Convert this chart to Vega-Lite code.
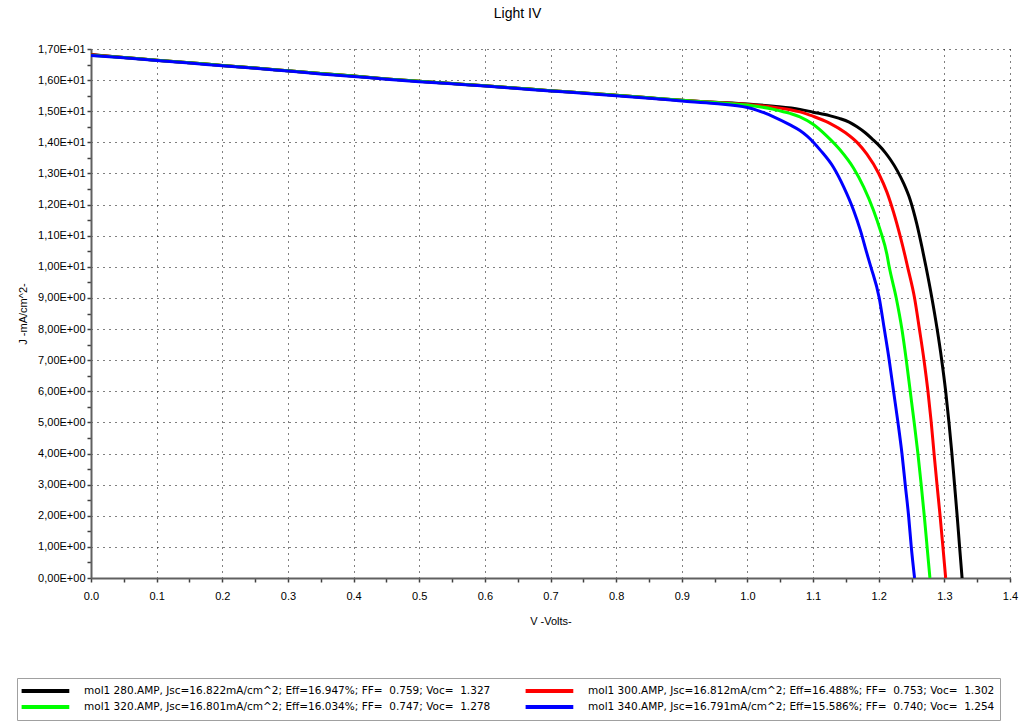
{
  "$schema": "https://vega.github.io/schema/vega-lite/v6.json",
  "width": 919,
  "height": 529,
  "autosize": {"type": "none"},
  "padding": {"left": 91, "top": 49, "right": 26, "bottom": 145},
  "background": "white",
  "config": {"view": {"stroke": null}, "font": "Liberation Sans"},
  "title": {"text": "Light IV", "fontSize": 14, "fontWeight": "normal", "color": "#000000", "anchor": "middle", "dx": -33, "offset": 22},
  "data": {
    "values": [
      {"k": "280", "v": 0, "j": 16.822}, {"k": "280", "v": 0.05, "j": 16.73}, {"k": "280", "v": 0.1, "j": 16.64}, {"k": "280", "v": 0.15, "j": 16.56}, {"k": "280", "v": 0.2, "j": 16.47}, {"k": "280", "v": 0.25, "j": 16.39}, {"k": "280", "v": 0.3, "j": 16.3}, {"k": "280", "v": 0.35, "j": 16.21}, {"k": "280", "v": 0.4, "j": 16.13}, {"k": "280", "v": 0.45, "j": 16.04}, {"k": "280", "v": 0.5, "j": 15.96}, {"k": "280", "v": 0.55, "j": 15.89}, {"k": "280", "v": 0.6, "j": 15.82}, {"k": "280", "v": 0.65, "j": 15.74}, {"k": "280", "v": 0.7, "j": 15.66}, {"k": "280", "v": 0.75, "j": 15.59}, {"k": "280", "v": 0.8, "j": 15.51}, {"k": "280", "v": 0.85, "j": 15.43}, {"k": "280", "v": 0.9, "j": 15.35}, {"k": "280", "v": 0.95, "j": 15.29},
      {"k": "280", "v": 1.0, "j": 15.23}, {"k": "280", "v": 1.04, "j": 15.16}, {"k": "280", "v": 1.08, "j": 15.06}, {"k": "280", "v": 1.1, "j": 14.97}, {"k": "280", "v": 1.125, "j": 14.86}, {"k": "280", "v": 1.14, "j": 14.77}, {"k": "280", "v": 1.155, "j": 14.65}, {"k": "280", "v": 1.167, "j": 14.5}, {"k": "280", "v": 1.18, "j": 14.3}, {"k": "280", "v": 1.192, "j": 14.07}, {"k": "280", "v": 1.2, "j": 13.91}, {"k": "280", "v": 1.21, "j": 13.67}, {"k": "280", "v": 1.218, "j": 13.44}, {"k": "280", "v": 1.228, "j": 13.1}, {"k": "280", "v": 1.238, "j": 12.68}, {"k": "280", "v": 1.248, "j": 12.15}, {"k": "280", "v": 1.258, "j": 11.38}, {"k": "280", "v": 1.266, "j": 10.62}, {"k": "280", "v": 1.272, "j": 10.0}, {"k": "280", "v": 1.281, "j": 9.0}, {"k": "280", "v": 1.289, "j": 8.0}, {"k": "280", "v": 1.296, "j": 7.0}, {"k": "280", "v": 1.302, "j": 6.0}, {"k": "280", "v": 1.307, "j": 5.0}, {"k": "280", "v": 1.3115, "j": 4.0}, {"k": "280", "v": 1.3155, "j": 3.0}, {"k": "280", "v": 1.3195, "j": 2.0}, {"k": "280", "v": 1.3232, "j": 1.0}, {"k": "280", "v": 1.327, "j": 0.0},

      {"k": "300", "v": 0, "j": 16.812}, {"k": "300", "v": 0.05, "j": 16.73}, {"k": "300", "v": 0.1, "j": 16.64}, {"k": "300", "v": 0.15, "j": 16.56}, {"k": "300", "v": 0.2, "j": 16.47}, {"k": "300", "v": 0.25, "j": 16.39}, {"k": "300", "v": 0.3, "j": 16.3}, {"k": "300", "v": 0.35, "j": 16.21}, {"k": "300", "v": 0.4, "j": 16.13}, {"k": "300", "v": 0.45, "j": 16.04}, {"k": "300", "v": 0.5, "j": 15.96}, {"k": "300", "v": 0.55, "j": 15.89}, {"k": "300", "v": 0.6, "j": 15.82}, {"k": "300", "v": 0.65, "j": 15.74}, {"k": "300", "v": 0.7, "j": 15.66}, {"k": "300", "v": 0.75, "j": 15.59}, {"k": "300", "v": 0.8, "j": 15.51}, {"k": "300", "v": 0.85, "j": 15.43}, {"k": "300", "v": 0.9, "j": 15.35}, {"k": "300", "v": 0.95, "j": 15.29},
      {"k": "300", "v": 1.0, "j": 15.22}, {"k": "300", "v": 1.04, "j": 15.13}, {"k": "300", "v": 1.065, "j": 15.05}, {"k": "300", "v": 1.08, "j": 14.98}, {"k": "300", "v": 1.1, "j": 14.84}, {"k": "300", "v": 1.125, "j": 14.62}, {"k": "300", "v": 1.15, "j": 14.3}, {"k": "300", "v": 1.167, "j": 14.0}, {"k": "300", "v": 1.182, "j": 13.62}, {"k": "300", "v": 1.2, "j": 13.0}, {"k": "300", "v": 1.2125, "j": 12.4}, {"k": "300", "v": 1.2225, "j": 11.76}, {"k": "300", "v": 1.233, "j": 10.96}, {"k": "300", "v": 1.2405, "j": 10.32}, {"k": "300", "v": 1.244, "j": 10.0}, {"k": "300", "v": 1.2546, "j": 9.0}, {"k": "300", "v": 1.262, "j": 8.0}, {"k": "300", "v": 1.269, "j": 7.0}, {"k": "300", "v": 1.275, "j": 6.0}, {"k": "300", "v": 1.28, "j": 5.0}, {"k": "300", "v": 1.2843, "j": 4.0}, {"k": "300", "v": 1.2888, "j": 3.0}, {"k": "300", "v": 1.2935, "j": 2.0}, {"k": "300", "v": 1.2978, "j": 1.0}, {"k": "300", "v": 1.302, "j": 0.0},

      {"k": "320", "v": 0, "j": 16.801}, {"k": "320", "v": 0.05, "j": 16.73}, {"k": "320", "v": 0.1, "j": 16.64}, {"k": "320", "v": 0.15, "j": 16.56}, {"k": "320", "v": 0.2, "j": 16.47}, {"k": "320", "v": 0.25, "j": 16.39}, {"k": "320", "v": 0.3, "j": 16.3}, {"k": "320", "v": 0.35, "j": 16.21}, {"k": "320", "v": 0.4, "j": 16.13}, {"k": "320", "v": 0.45, "j": 16.04}, {"k": "320", "v": 0.5, "j": 15.96}, {"k": "320", "v": 0.55, "j": 15.89}, {"k": "320", "v": 0.6, "j": 15.82}, {"k": "320", "v": 0.65, "j": 15.74}, {"k": "320", "v": 0.7, "j": 15.66}, {"k": "320", "v": 0.75, "j": 15.59}, {"k": "320", "v": 0.8, "j": 15.51}, {"k": "320", "v": 0.85, "j": 15.43}, {"k": "320", "v": 0.9, "j": 15.35}, {"k": "320", "v": 0.95, "j": 15.28},
      {"k": "320", "v": 1.0, "j": 15.2}, {"k": "320", "v": 1.04, "j": 15.06}, {"k": "320", "v": 1.065, "j": 14.93}, {"k": "320", "v": 1.08, "j": 14.82}, {"k": "320", "v": 1.1, "j": 14.58}, {"k": "320", "v": 1.121, "j": 14.2}, {"k": "320", "v": 1.141, "j": 13.76}, {"k": "320", "v": 1.162, "j": 13.16}, {"k": "320", "v": 1.177, "j": 12.57}, {"k": "320", "v": 1.192, "j": 11.82}, {"k": "320", "v": 1.2023, "j": 11.18}, {"k": "320", "v": 1.2125, "j": 10.4}, {"k": "320", "v": 1.216, "j": 10.0}, {"k": "320", "v": 1.2267, "j": 9.0}, {"k": "320", "v": 1.2353, "j": 8.0}, {"k": "320", "v": 1.242, "j": 7.0}, {"k": "320", "v": 1.248, "j": 6.0}, {"k": "320", "v": 1.254, "j": 5.0}, {"k": "320", "v": 1.2597, "j": 4.0}, {"k": "320", "v": 1.2647, "j": 3.0}, {"k": "320", "v": 1.2694, "j": 2.0}, {"k": "320", "v": 1.2737, "j": 1.0}, {"k": "320", "v": 1.278, "j": 0.0},

      {"k": "340", "v": 0, "j": 16.791}, {"k": "340", "v": 0.05, "j": 16.72}, {"k": "340", "v": 0.1, "j": 16.63}, {"k": "340", "v": 0.15, "j": 16.55}, {"k": "340", "v": 0.2, "j": 16.46}, {"k": "340", "v": 0.25, "j": 16.38}, {"k": "340", "v": 0.3, "j": 16.29}, {"k": "340", "v": 0.35, "j": 16.2}, {"k": "340", "v": 0.4, "j": 16.12}, {"k": "340", "v": 0.45, "j": 16.03}, {"k": "340", "v": 0.5, "j": 15.95}, {"k": "340", "v": 0.55, "j": 15.88}, {"k": "340", "v": 0.6, "j": 15.81}, {"k": "340", "v": 0.65, "j": 15.73}, {"k": "340", "v": 0.7, "j": 15.65}, {"k": "340", "v": 0.75, "j": 15.58}, {"k": "340", "v": 0.8, "j": 15.5}, {"k": "340", "v": 0.85, "j": 15.42}, {"k": "340", "v": 0.9, "j": 15.33}, {"k": "340", "v": 0.95, "j": 15.25},
      {"k": "340", "v": 1.0, "j": 15.12}, {"k": "340", "v": 1.015, "j": 15.03}, {"k": "340", "v": 1.04, "j": 14.82}, {"k": "340", "v": 1.065, "j": 14.56}, {"k": "340", "v": 1.08, "j": 14.38}, {"k": "340", "v": 1.091, "j": 14.2}, {"k": "340", "v": 1.111, "j": 13.75}, {"k": "340", "v": 1.131, "j": 13.2}, {"k": "340", "v": 1.1466, "j": 12.57}, {"k": "340", "v": 1.1617, "j": 11.82}, {"k": "340", "v": 1.172, "j": 11.18}, {"k": "340", "v": 1.182, "j": 10.43}, {"k": "340", "v": 1.188, "j": 10.0}, {"k": "340", "v": 1.2008, "j": 9.0}, {"k": "340", "v": 1.2085, "j": 8.0}, {"k": "340", "v": 1.216, "j": 7.0}, {"k": "340", "v": 1.2226, "j": 6.0}, {"k": "340", "v": 1.2293, "j": 5.0}, {"k": "340", "v": 1.2354, "j": 4.0}, {"k": "340", "v": 1.2404, "j": 3.0}, {"k": "340", "v": 1.2455, "j": 2.0}, {"k": "340", "v": 1.2496, "j": 1.0}, {"k": "340", "v": 1.2546, "j": 0.0}
    ]
  },
  "mark": {"type": "line", "strokeWidth": 3, "clip": true, "interpolate": "monotone"},
  "encoding": {
    "x": {
      "field": "v", "type": "quantitative",
      "scale": {"domain": [0, 1.4], "nice": false, "zero": false},
      "axis": {
        "title": "V -Volts-", "titleFontSize": 11, "titleFontWeight": "normal", "titleColor": "#000000", "titlePadding": 14,
        "values": [0, 0.05, 0.1, 0.15, 0.2, 0.25, 0.3, 0.35, 0.4, 0.45, 0.5, 0.55, 0.6, 0.65, 0.7, 0.75, 0.8, 0.85, 0.9, 0.95, 1.0, 1.05, 1.1, 1.15, 1.2, 1.25, 1.3, 1.35, 1.4],
        "labelExpr": "abs(datum.value*10-round(datum.value*10))<0.001 ? format(datum.value,'.1f') : ''",
        "labelFontSize": 11, "labelColor": "#000000", "labelPadding": 8, "labelFlush": false,
        "domainColor": "#606060", "domainWidth": 2,
        "tickColor": "#404040", "tickWidth": 1.5, "tickSize": 4,
        "grid": true, "gridColor": "#000000", "gridDash": [1, 5], "gridWidth": 1,
        "gridOpacity": {"condition": {"test": "abs(datum.value*10-round(datum.value*10))<0.001 && datum.value>0", "value": 1}, "value": 0}
      }
    },
    "y": {
      "field": "j", "type": "quantitative",
      "scale": {"domain": [0, 17], "nice": false},
      "axis": {
        "title": "J -mA/cm^2-", "titleFontSize": 11, "titleFontWeight": "normal", "titleColor": "#000000", "titlePadding": 9,
        "values": [0, 0.5, 1, 1.5, 2, 2.5, 3, 3.5, 4, 4.5, 5, 5.5, 6, 6.5, 7, 7.5, 8, 8.5, 9, 9.5, 10, 10.5, 11, 11.5, 12, 12.5, 13, 13.5, 14, 14.5, 15, 15.5, 16, 16.5, 17],
        "labelExpr": "abs(datum.value-round(datum.value))>0.001 ? '' : (datum.value >= 10 ? replace(format(datum.value/10,'.2f'),'.',',') + 'E+01' : replace(format(datum.value,'.2f'),'.',',') + 'E+00')",
        "labelFontSize": 11, "labelColor": "#000000", "labelPadding": 2, "labelFlush": false,
        "domainColor": "#606060", "domainWidth": 2,
        "tickColor": "#404040", "tickWidth": 1.5, "tickSize": 4,
        "grid": true, "gridColor": "#000000", "gridDash": [1, 5], "gridWidth": 1,
        "gridOpacity": {"condition": {"test": "abs(datum.value-round(datum.value))<0.001 && datum.value>0", "value": 1}, "value": 0}
      }
    },
    "color": {
      "field": "k", "type": "nominal",
      "scale": {"domain": ["280", "300", "320", "340"], "range": ["#000000", "#ff0000", "#00ff00", "#0000ff"]},
      "legend": {
        "title": null, "orient": "none", "legendX": -74, "legendY": 629, "columns": 2,
        "direction": "horizontal",
        "labelExpr": "{'280': 'mol1 280.AMP, Jsc=16.822mA/cm^2; Eff=16.947%; FF=\u00a0 0.759; Voc=\u00a0 1.327', '300': 'mol1 300.AMP, Jsc=16.812mA/cm^2; Eff=16.488%; FF=\u00a0 0.753; Voc=\u00a0 1.302', '320': 'mol1 320.AMP, Jsc=16.801mA/cm^2; Eff=16.034%; FF=\u00a0 0.747; Voc=\u00a0 1.278', '340': 'mol1 340.AMP, Jsc=16.791mA/cm^2; Eff=15.586%; FF=\u00a0 0.740; Voc=\u00a0 1.254'}[datum.label]",
        "labelFont": "DejaVu Sans", "labelFontSize": 10.5, "labelColor": "#000000", "labelLimit": 600, "labelOffset": 46,
        "symbolType": "M-1.4,0H6.55", "symbolSize": 144, "symbolStrokeWidth": 4,
        "columnPadding": 26, "rowPadding": 0, "padding": 5,
        "strokeColor": "#a0a0a0", "fillColor": "#ffffff"
      }
    }
  }
}
